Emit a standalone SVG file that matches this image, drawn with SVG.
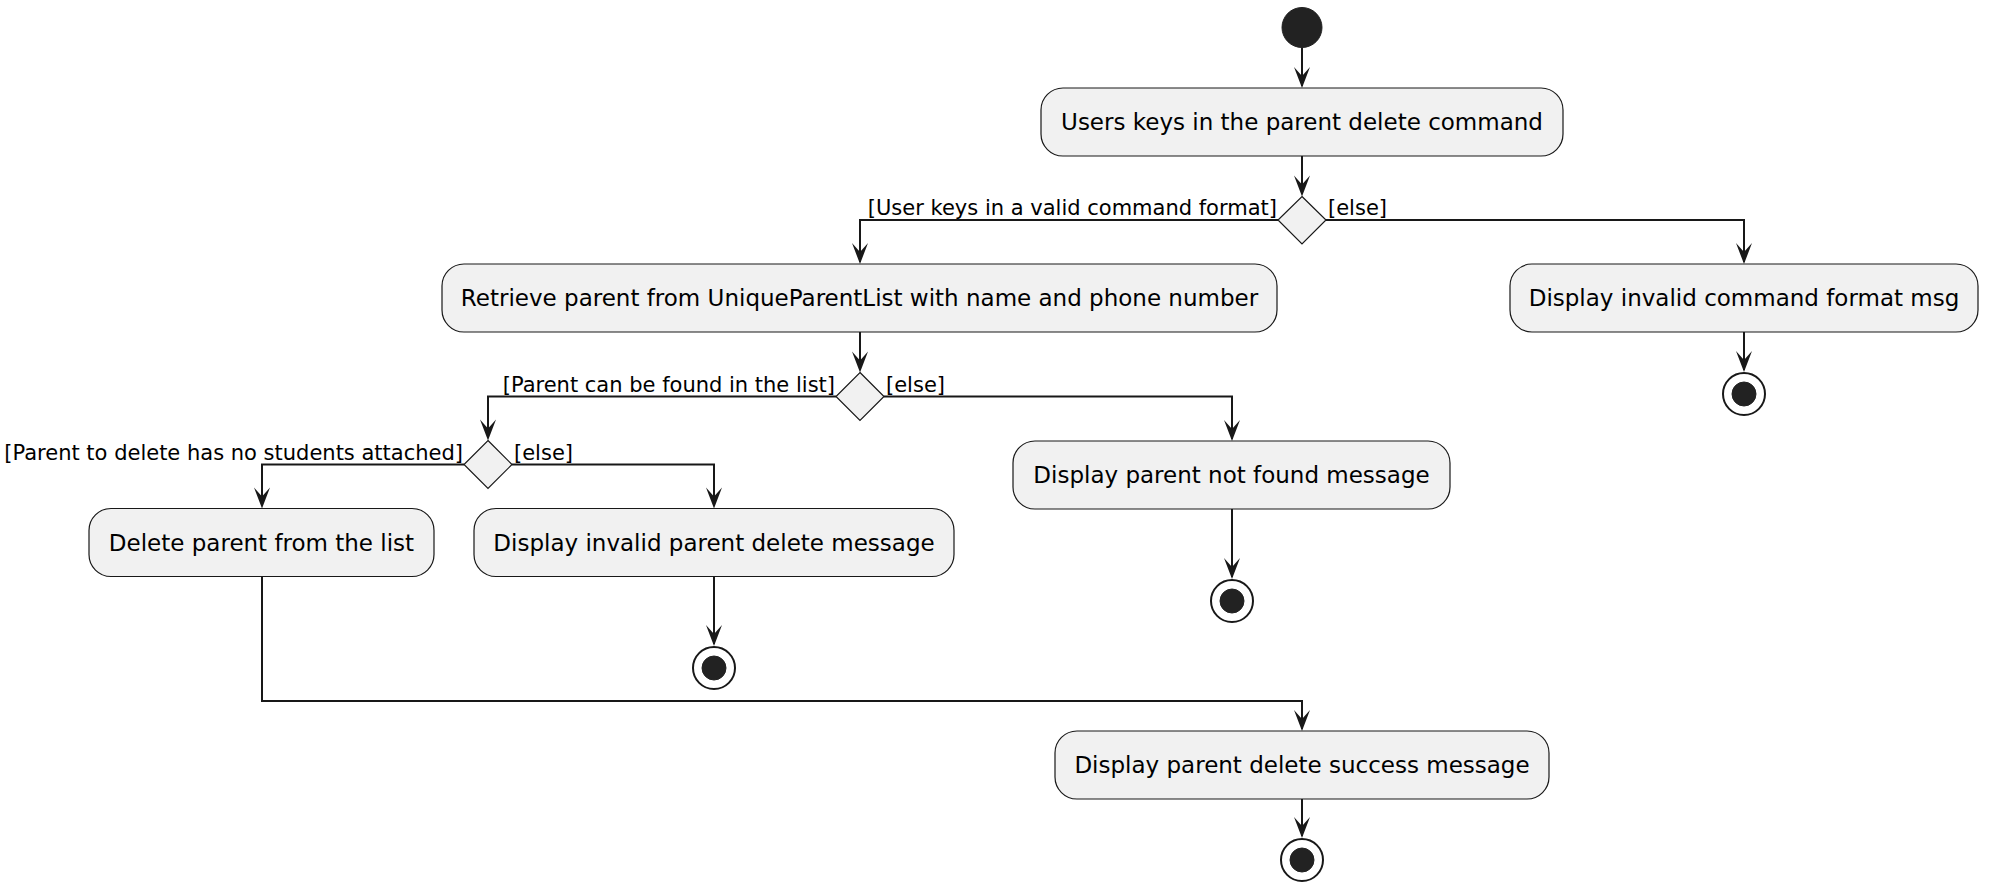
<svg xmlns="http://www.w3.org/2000/svg" width="1990" height="892" viewBox="0 0 1990 892">
<defs>
<style>
.act rect{fill:#F1F1F1;stroke:#181818;stroke-width:1.2}
.act text{font-family:"DejaVu Sans",sans-serif;font-size:23px;fill:#000;text-anchor:middle}
.dec polygon{fill:#F1F1F1;stroke:#181818;stroke-width:1.2}
.lbl{font-family:"DejaVu Sans",sans-serif;font-size:21px;fill:#000}
.lbl.l{text-anchor:end}
.lbl.r{text-anchor:start}
.edge{fill:none;stroke:#181818;stroke-width:2}
.head{fill:#181818}
.startc{fill:#222222;stroke:#222222}
.stop .o{fill:none;stroke:#181818;stroke-width:2}
.stop .i{fill:#222222;stroke:#222222;stroke-width:1}
</style>
</defs>
<rect width="1990" height="892" fill="#FFFFFF"/>
<g id="connectors">
<path class="edge" d="M1302 47.5 V86"/>
<polygon class="head" points="1302,88 1294,67 1302,76 1310,67"/>
<path class="edge" d="M1302 156 V194"/>
<polygon class="head" points="1302,196.5 1294,175.5 1302,184.5 1310,175.5"/>
<path class="edge" d="M1278 220 H860 V262"/>
<polygon class="head" points="860,264 852,243 860,252 868,243"/>
<path class="edge" d="M1326 220 H1744 V262"/>
<polygon class="head" points="1744,264 1736,243 1744,252 1752,243"/>
<path class="edge" d="M1744 332 V370"/>
<polygon class="head" points="1744,372 1736,351 1744,360 1752,351"/>
<path class="edge" d="M860 332 V370"/>
<polygon class="head" points="860,372.5 852,351.5 860,360.5 868,351.5"/>
<path class="edge" d="M836 396.5 H488 V438"/>
<polygon class="head" points="488,440.5 480,419.5 488,428.5 496,419.5"/>
<path class="edge" d="M884 396.5 H1232 V439"/>
<polygon class="head" points="1232,441 1224,420 1232,429 1240,420"/>
<path class="edge" d="M1232 509 V577"/>
<polygon class="head" points="1232,579 1224,558 1232,567 1240,558"/>
<path class="edge" d="M464 464.5 H262 V506"/>
<polygon class="head" points="262,508.5 254,487.5 262,496.5 270,487.5"/>
<path class="edge" d="M512 464.5 H714 V506"/>
<polygon class="head" points="714,508.5 706,487.5 714,496.5 722,487.5"/>
<path class="edge" d="M714 576.5 V644"/>
<polygon class="head" points="714,646 706,625 714,634 722,625"/>
<path class="edge" d="M262 576.5 V701 H1302 V729"/>
<polygon class="head" points="1302,731 1294,710 1302,719 1310,710"/>
<path class="edge" d="M1302 799 V836"/>
<polygon class="head" points="1302,838 1294,817 1302,826 1310,817"/>
<text class="lbl l" x="1277" y="215">[User keys in a valid command format]</text>
<text class="lbl r" x="1328" y="215">[else]</text>
<text class="lbl l" x="835" y="392">[Parent can be found in the list]</text>
<text class="lbl r" x="886" y="392">[else]</text>
<text class="lbl l" x="463" y="460">[Parent to delete has no students attached]</text>
<text class="lbl r" x="514" y="460">[else]</text>
</g>
<g id="start"><circle class="startc" cx="1302" cy="27.5" r="20"/></g>
<g id="a1" class="act"><rect x="1041" y="88" width="522" height="68" rx="22"/><text x="1302" y="130">Users keys in the parent delete command</text></g>
<g id="d1" class="dec"><polygon points="1302,196.5 1326,220 1302,244 1278,220"/></g>
<g id="a2" class="act"><rect x="442" y="264" width="835" height="68" rx="22"/><text x="859.5" y="306">Retrieve parent from UniqueParentList with name and phone number</text></g>
<g id="a6" class="act"><rect x="1510" y="264" width="468" height="68" rx="22"/><text x="1744" y="306">Display invalid command format msg</text></g>
<g id="stop6" class="stop"><circle class="o" cx="1744" cy="394" r="21"/><circle class="i" cx="1744" cy="394" r="12"/></g>
<g id="d2" class="dec"><polygon points="860,372.5 884,396.5 860,420.5 836,396.5"/></g>
<g id="a5" class="act"><rect x="1013" y="441" width="437" height="68" rx="22"/><text x="1231.5" y="483">Display parent not found message</text></g>
<g id="stop5" class="stop"><circle class="o" cx="1232" cy="601" r="21"/><circle class="i" cx="1232" cy="601" r="12"/></g>
<g id="d3" class="dec"><polygon points="488,440.5 512,464.5 488,488.5 464,464.5"/></g>
<g id="a3" class="act"><rect x="89" y="508.5" width="345" height="68" rx="22"/><text x="261.5" y="550.5">Delete parent from the list</text></g>
<g id="a4" class="act"><rect x="474" y="508.5" width="480" height="68" rx="22"/><text x="714" y="550.5">Display invalid parent delete message</text></g>
<g id="stop4" class="stop"><circle class="o" cx="714" cy="668" r="21"/><circle class="i" cx="714" cy="668" r="12"/></g>
<g id="a7" class="act"><rect x="1055" y="731" width="494" height="68" rx="22"/><text x="1302" y="773">Display parent delete success message</text></g>
<g id="stop7" class="stop"><circle class="o" cx="1302" cy="860" r="21"/><circle class="i" cx="1302" cy="860" r="12"/></g>
</svg>
